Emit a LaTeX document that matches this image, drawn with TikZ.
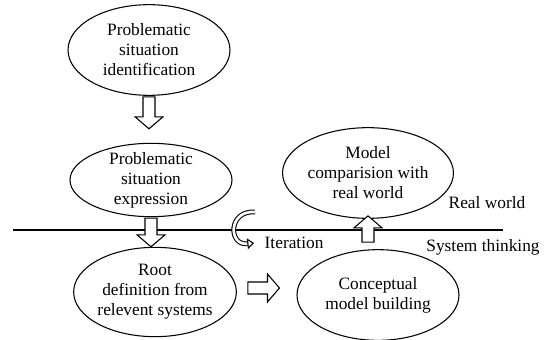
\documentclass[tikz,border=0pt]{standalone}
\usepackage{fontspec}
\setmainfont{Liberation Serif}
\newfontfamily\tnr{Liberation Serif}
\usepackage{tikz}
\usetikzlibrary{calc, arrows.meta, shapes.geometric}

\begin{document}
\begin{tikzpicture}[x=0.75pt, y=-0.75pt,
        stage/.style={draw, thick, ellipse, align=center, inner xsep=0pt, inner ysep=-6pt,
            minimum width=121.5pt, font=\tnr\fontsize{13}{15}\selectfont},
        hollow/.style={draw, line width=0.8pt, fill=white, to path={
            ($(\tikztostart)!4.5pt!90:(\tikztotarget)$)
            -- ($($(\tikztotarget)!9pt!(\tikztostart)$)!4.5pt!90:(\tikztotarget)$)
            -- ($($(\tikztotarget)!9pt!(\tikztostart)$)!10.5pt!90:(\tikztotarget)$)
            -- (\tikztotarget)
            -- ($($(\tikztotarget)!9pt!(\tikztostart)$)!10.5pt!-90:(\tikztotarget)$)
            -- ($($(\tikztotarget)!9pt!(\tikztostart)$)!4.5pt!-90:(\tikztotarget)$)
            -- ($(\tikztostart)!4.5pt!-90:(\tikztotarget)$) -- cycle}},
        iter/.style={draw, line width=0.8pt, double distance=2pt,
            -{Triangle[open, fill=white, length=5pt, width=8pt]}},
        txt/.style={font=\tnr\fontsize{13}{15}\selectfont}]
        \useasboundingbox (0,0) rectangle (545,339);

        \node[stage, minimum height=68pt] (ident) at (149,50) {Problematic\\situation\\identification};
        \node[stage, minimum height=55pt] (express) at (151,180) {Problematic\\situation\\expression};
        \node[stage, minimum height=67pt] (rootdef) at (155,292) {Root\\definition from\\relevent systems};
        \node[stage, minimum height=68pt] (concept) at (378,295) {Conceptual\\model building};
        \node[stage, minimum height=68pt] (compare) at (368,173) {Model\\comparision with\\real world};

        \coordinate (lineL) at (13,230);
        \coordinate (lineR) at (503,230);
        \draw[thick] (lineL) -- (lineR);

        % hollow block arrows between the stages
        \draw[hollow] ($(ident.south)+(0,1)$) to ($(ident.south |- express.north)+(0,-14)$);
        \draw[hollow] ($(express.south)+(0,1)$) to (express.south |- rootdef.north);
        \draw[hollow] ($(rootdef.east)+(11,-4)$) to ($(rootdef.east -| concept.west)+(-17,-4)$);
        \draw[hollow] ($(compare.south |- concept.north)+(0,-7)$) to ($(compare.south)+(0,-3)$);

        \coordinate (itA) at (255,212);
        \coordinate (itB) at (254,243);
        \draw[iter] (itA) .. controls (228,210) and (228,246) .. (itB);

        \node[txt, right] (iteration) at (260,243) {Iteration};
        \node[txt] (real) at (487,203) {Real world};
        \node[txt] (system) at (483,247) {System thinking};
    \end{tikzpicture}
\end{document}
